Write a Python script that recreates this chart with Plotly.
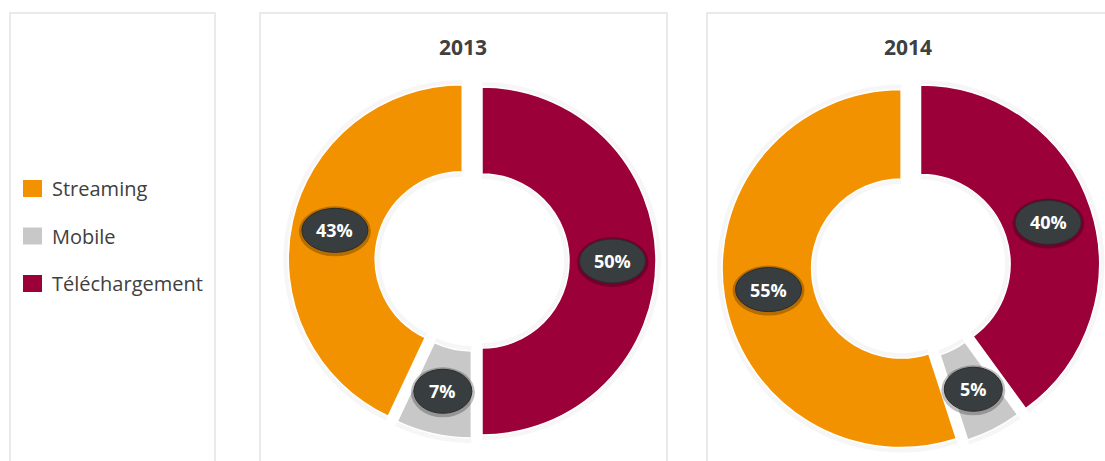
import math
import plotly.graph_objects as go

W, H = 1105, 461

# Data
categories = ["Téléchargement", "Mobile", "Streaming"]
legend_order = ["Streaming", "Mobile", "Téléchargement"]
years = ["2013", "2014"]
shares_2013 = [50, 7, 43]
shares_2014 = [40, 5, 55]

# Styling
colors = {"Streaming": "#F39200", "Mobile": "#C8C8C8", "Téléchargement": "#9B0039"}
text_color = "#404040"
font_family = "Open Sans, Lato, sans-serif"
hole = 0.5
pull_px = [10, 3, 10]          # explosion of each slice, in pixels
donut_geom = [                 # (centre x, centre y, outer radius) in pixels
    (472, 261, 174),
    (911, 267, 179),
]
panels = [(10, 215), (260, 667), (707, 1125)]
panel_top = 13
title_x = [463, 908]
halo_px = 5                    # soft halo drawn behind each ring


def pie_domain(cx, cy, r, pulls_px):
    half = r * (1 + max(pulls_px) / r)
    return dict(x=[(cx - half) / W, (cx + half) / W],
                y=[(H - cy - half) / H, (H - cy + half) / H])


fig = go.Figure()
shapes = []
annotations = []

# Background panels
for x0, x1 in panels:
    shapes.append(dict(type="rect", xref="x", yref="y", x0=x0, x1=x1, y0=panel_top, y1=H + 20,
                       line=dict(color="#E3E3E3", width=1.5), fillcolor="white", layer="below"))

for year, shares, (cx, cy, r), tx in zip(years, [shares_2013, shares_2014], donut_geom, title_x):
    # faint halo under the ring
    rh = r + halo_px
    fig.add_trace(go.Pie(
        labels=categories, values=shares, sort=False, direction="clockwise", rotation=0,
        hole=(r * hole - halo_px) / rh,
        pull=[p / rh for p in pull_px],
        marker=dict(colors=["rgba(0,0,0,0.035)"] * len(categories), line=dict(width=0)),
        textinfo="none", hoverinfo="skip", showlegend=False,
        domain=pie_domain(cx, cy, rh, pull_px),
    ))
    fig.add_trace(go.Pie(
        labels=categories,
        values=shares,
        hole=hole,
        sort=False,
        direction="clockwise",
        rotation=0,
        pull=[p / r for p in pull_px],
        marker=dict(colors=[colors[c] for c in categories], line=dict(color="white", width=1.5)),
        textinfo="none",
        hoverinfo="label+percent",
        showlegend=False,
        domain=pie_domain(cx, cy, r, pull_px),
    ))

    # Year title
    annotations.append(dict(x=tx, y=47, xref="x", yref="y", text=f"<b>{year}</b>", showarrow=False,
                            font=dict(family=font_family, size=21, color=text_color)))

    # Value badges placed in the middle of each ring segment
    total = sum(shares)
    start = 0.0
    r_mid = r * (1 + hole) / 2
    for cat, v, pp in zip(categories, shares, pull_px):
        a0 = start / total * 360
        a1 = (start + v) / total * 360
        start += v
        am = math.radians((a0 + a1) / 2)
        d = r_mid + pp
        lx = cx + d * math.sin(am)
        ly = cy - d * math.cos(am)
        label = f"{v}%"
        bw = 29 if len(label) <= 2 else 33
        bh = 22
        shapes.append(dict(type="circle", xref="x", yref="y",
                           x0=lx - bw - 3, x1=lx + bw + 3, y0=ly - bh - 2, y1=ly + bh + 4,
                           fillcolor="rgba(0,0,0,0.25)", line=dict(width=0), layer="above"))
        shapes.append(dict(type="circle", xref="x", yref="y",
                           x0=lx - bw, x1=lx + bw, y0=ly - bh, y1=ly + bh,
                           fillcolor="#383D40", line=dict(color="#2B2B2B", width=1), layer="above"))
        annotations.append(dict(x=lx, y=ly, xref="x", yref="y", text=f"<b>{label}</b>",
                                showarrow=False,
                                font=dict(family=font_family, size=18, color="white")))

# Legend
legend_y = [188.5, 236, 283.5]
for cat, y in zip(legend_order, legend_y):
    shapes.append(dict(type="rect", xref="x", yref="y", x0=23, x1=42, y0=y - 8.5, y1=y + 8.5,
                       fillcolor=colors[cat], line=dict(width=0), layer="above"))
    annotations.append(dict(x=50, y=y, xref="x", yref="y", xanchor="left", text=cat,
                            showarrow=False,
                            font=dict(family=font_family, size=20, color=text_color)))

fig.update_layout(
    width=W, height=H,
    margin=dict(l=0, r=0, t=0, b=0),
    paper_bgcolor="white",
    plot_bgcolor="rgba(0,0,0,0)",
    xaxis=dict(range=[0, W], visible=False, fixedrange=True),
    yaxis=dict(range=[H, 0], visible=False, fixedrange=True),
    shapes=shapes,
    annotations=annotations,
    showlegend=False,
)

fig.write_html("out.html")
